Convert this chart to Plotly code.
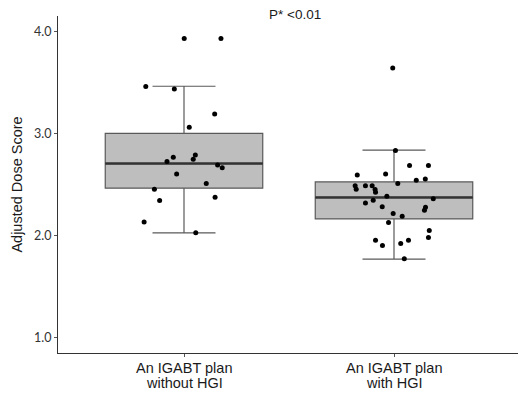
import plotly.graph_objects as go

# ---- data ----
categories = ["An IGABT plan<br>without HGI", "An IGABT plan<br>with HGI"]
group_index = [0, 1]

# box statistics
q1 = [2.464, 2.163]
median = [2.705, 2.373]
q3 = [3.000, 2.525]
lower_whisker = [2.027, 1.769]
upper_whisker = [3.462, 2.836]

# jittered points: values and horizontal jitter offsets
g1_values = [3.93, 3.93, 3.46, 3.435, 3.19, 3.06, 2.767, 2.79, 2.725, 2.748,
             2.692, 2.663, 2.604, 2.51, 2.454, 2.343, 2.376, 2.134, 2.027]
g1_jitter = [0.001, 0.176, -0.182, -0.046, 0.146, 0.025, -0.051, 0.054, -0.081, 0.044,
             0.160, 0.182, -0.035, 0.106, -0.141, -0.116, 0.148, -0.190, 0.056]

g2_values = [3.64, 2.833, 2.686, 2.686, 2.594, 2.604, 2.542, 2.555, 2.51, 2.487,
             2.454, 2.487, 2.487, 2.451, 2.425, 2.386, 2.36, 2.32, 2.346, 2.281,
             2.278, 2.249, 2.216, 2.19, 2.128, 2.05, 1.981, 1.955, 1.903, 1.922,
             1.955, 1.772]
g2_jitter = [-0.006, 0.007, 0.074, 0.164, -0.175, -0.040, 0.106, 0.149, 0.018, -0.185,
             -0.180, -0.136, -0.104, -0.090, -0.088, -0.034, 0.187, -0.136, -0.099, -0.056,
             0.150, 0.145, -0.004, 0.039, -0.026, 0.168, 0.164, -0.088, -0.055, 0.032,
             0.069, 0.049]

y_ticks = [1.0, 2.0, 3.0, 4.0]
y_tick_labels = ["1.0", "2.0", "3.0", "4.0"]
title_text = "P* <0.01"
y_title = "Adjusted Dose Score"

BOX_WIDTH = 0.75
LABEL_FONT = dict(family="Liberation Sans, Arial, sans-serif", size=14.5, color="#1a1a1a")

fig = go.Figure()

fig.add_trace(go.Box(
    x=group_index, q1=q1, median=median, q3=q3,
    lowerfence=lower_whisker, upperfence=upper_whisker,
    width=BOX_WIDTH, whiskerwidth=0.4, boxpoints=False,
    fillcolor="#bebebe", line=dict(color="#5a5a5a", width=1.2),
    hoverinfo="skip", showlegend=False,
))

# thicker median lines
for gi, m in zip(group_index, median):
    fig.add_trace(go.Scatter(
        x=[gi - BOX_WIDTH / 2, gi + BOX_WIDTH / 2], y=[m, m], mode="lines",
        line=dict(color="#333333", width=2.6), showlegend=False, hoverinfo="skip",
    ))

for gi, vals, jit in [(0, g1_values, g1_jitter), (1, g2_values, g2_jitter)]:
    fig.add_trace(go.Scatter(
        x=[gi + j for j in jit], y=vals, mode="markers",
        marker=dict(color="black", size=5), showlegend=False,
    ))

annotations = [dict(
    text=title_text, x=0.515, xref="paper", y=1.003, yref="paper",
    yanchor="middle", showarrow=False, font=dict(size=13.5, color="#1a1a1a"),
)]
# category labels, one annotation per line for tight line spacing
for gi, cat in zip(group_index, categories):
    for k, line in enumerate(cat.split("<br>")):
        annotations.append(dict(
            text=line, x=gi, xref="x", y=0, yref="paper", yanchor="middle",
            yshift=-15 - 15 * k, showarrow=False, font=LABEL_FONT,
        ))

fig.update_layout(
    width=518, height=395,
    margin=dict(l=58, r=0, t=16, b=42),
    paper_bgcolor="white", plot_bgcolor="white",
    font=dict(family="Liberation Sans, Arial, sans-serif", color="#1a1a1a"),
    annotations=annotations,
)

fig.update_xaxes(
    range=[-0.6, 1.5905], tickmode="array", tickvals=group_index, ticktext=categories,
    showticklabels=False,
    showline=True, linecolor="#333333", linewidth=1.2, showgrid=False, zeroline=False,
    ticks="outside", ticklen=3, tickcolor="#555555",
)
fig.update_yaxes(
    range=[0.85, 4.15], tickmode="array", tickvals=y_ticks, ticktext=y_tick_labels,
    showline=True, linecolor="#333333", linewidth=1.2, showgrid=False, zeroline=False,
    ticks="outside", ticklen=3, tickcolor="#555555",
    tickfont=dict(family="Lato, sans-serif", size=12.5, color="#333333"),
    title=dict(text=y_title, font=dict(size=14.5, color="#1a1a1a"), standoff=7),
)

fig.write_html(
    "out.html",
    config={"displayModeBar": False},
    post_script="document.body.style.margin='0';document.body.style.padding='0';",
)
